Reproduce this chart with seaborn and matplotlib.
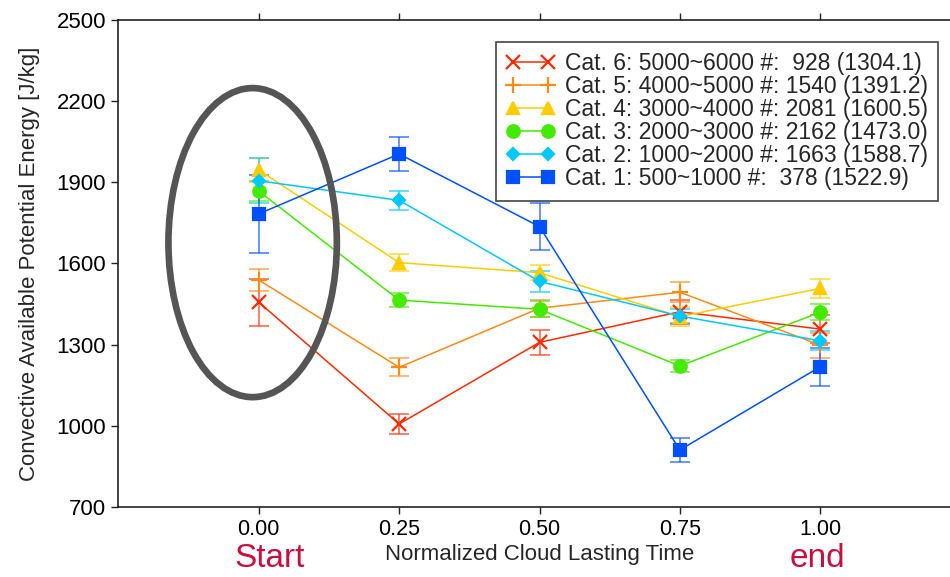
import matplotlib
matplotlib.use('Agg')
import matplotlib.pyplot as plt
from matplotlib.patches import Ellipse
import numpy as np
import pandas as pd
import seaborn as sns

# normalized cloud lasting time
TIME = [0.00, 0.25, 0.50, 0.75, 1.00]

# mean CAPE per category (J/kg) and half-width of the error bars
CAT6 = [1457, 1008, 1309, 1422, 1358]
CAT5 = [1539, 1217, 1435, 1494, 1299]
CAT4 = [1945, 1603, 1566, 1404, 1508]
CAT3 = [1867, 1465, 1431, 1222, 1420]
CAT2 = [1905, 1833, 1534, 1406, 1315]
CAT1 = [1783, 2004, 1736, 912, 1219]

ERR6 = [87, 37, 47, 44, 52]
ERR5 = [42, 33, 32, 37, 46]
ERR4 = [45, 31, 27, 35, 36]
ERR3 = [37, 26, 30, 23, 30]
ERR2 = [83, 34, 39, 25, 35]
ERR1 = [143, 62, 87, 44, 70]

LABELS = [
    'Cat. 6: 5000~6000 #:  928 (1304.1)',
    'Cat. 5: 4000~5000 #: 1540 (1391.2)',
    'Cat. 4: 3000~4000 #: 2081 (1600.5)',
    'Cat. 3: 2000~3000 #: 2162 (1473.0)',
    'Cat. 2: 1000~2000 #: 1663 (1588.7)',
    'Cat. 1: 500~1000 #:  378 (1522.9)',
]
YTICKS = [700, 1000, 1300, 1600, 1900, 2200, 2500]
XTICKS = [0.00, 0.25, 0.50, 0.75, 1.00]

COLORS = ['#ff2a00', '#ff8a14', '#ffcc00', '#44ea00', '#00c8ff', '#0050ff']
MARKERS = ['x', '+', '^', 'o', 'D', 's']
MSIZES = [10, 11, 9, 9, 6, 8.5]

sns.set_theme(style='ticks')
plt.rcParams['font.family'] = ['Liberation Sans', 'DejaVu Sans']
plt.rcParams['axes.edgecolor'] = '#222222'
plt.rcParams['xtick.color'] = '#222222'
plt.rcParams['ytick.color'] = '#222222'
plt.rcParams['xtick.labelcolor'] = 'black'
plt.rcParams['ytick.labelcolor'] = 'black'

fig = plt.figure(figsize=(9.5, 5.77), dpi=100)
ax = fig.add_axes([0.1247, 0.1205, 0.8864, 0.8457])

means = [CAT6, CAT5, CAT4, CAT3, CAT2, CAT1]
errs = [ERR6, ERR5, ERR4, ERR3, ERR2, ERR1]

for vals, err, lbl, c, m, ms in zip(means, errs, LABELS, COLORS, MARKERS, MSIZES):
    df = pd.DataFrame({'time': TIME, 'cape': vals})
    ax.errorbar(df['time'], df['cape'], yerr=err, fmt='none', ecolor=c,
                alpha=0.6, elinewidth=1.4, capsize=7, capthick=1.4, zorder=2)
    sns.lineplot(data=df, x='time', y='cape', color=c, marker=m, markersize=ms,
                 markeredgecolor=c, markeredgewidth=1.6, linewidth=1.1,
                 label=lbl, ax=ax, zorder=3)

# highlight of the start point
ax.add_patch(Ellipse((-0.011, 1677), 0.30, 1140, fill=False,
                     edgecolor='#555555', linewidth=4.8, zorder=5))

ax.set_xlim(-0.25, 1.25)
ax.set_ylim(700, 2500)
ax.set_xticks(XTICKS)
ax.set_xticklabels([f'{t:.2f}' for t in XTICKS])
ax.set_yticks(YTICKS)
ax.tick_params(axis='both', direction='out', length=5, width=1, labelsize=16, pad=4)
ax.tick_params(axis='x', top=True, pad=3.5, labelsize=15.5)
ax.spines['right'].set_visible(False)
for s in ['left', 'bottom', 'top']:
    ax.spines[s].set_linewidth(1.2)

ax.set_xlabel('Normalized Cloud Lasting Time', fontsize=16, labelpad=3)
ax.set_ylabel('Convective Available Potential Energy [J/kg]', fontsize=16, labelpad=12)

trans = ax.get_xaxis_transform()
ax.text(0.02, -0.104, 'Start', transform=trans, ha='center', va='center',
        fontsize=24, color='#c8103e')
ax.text(0.995, -0.104, 'end', transform=trans, ha='center', va='center',
        fontsize=24, color='#c8103e')

leg = ax.legend(loc='upper right', bbox_to_anchor=(938 / 950, 1 - 42 / 577),
                bbox_transform=fig.transFigure, fontsize=16.5, numpoints=2,
                handlelength=2.1, handletextpad=0.45, labelspacing=0.0,
                borderpad=0.45, borderaxespad=0, frameon=True, fancybox=False,
                framealpha=1)
leg.get_frame().set_edgecolor('#444444')
leg.get_frame().set_linewidth(1.2)

fig.savefig('out.png', dpi=100)
